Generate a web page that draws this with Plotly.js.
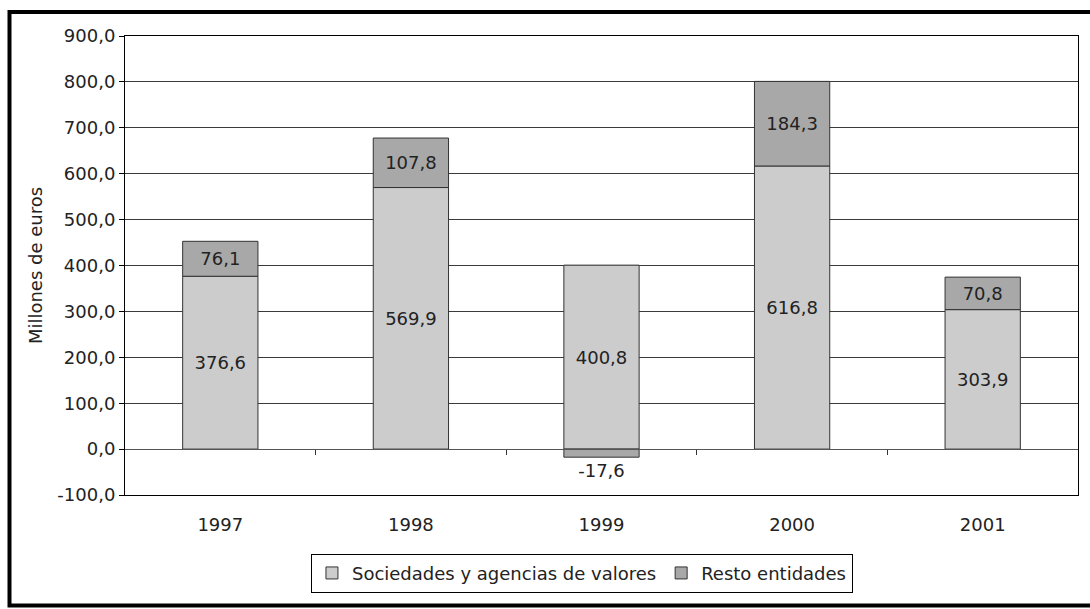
<!DOCTYPE html>
<html>
<head>
<meta charset="utf-8">
<script src="https://cdn.plot.ly/plotly-3.0.1.min.js"></script>
<style>
  html, body { margin: 0; padding: 0; background: #ffffff; }
  #chart { width: 1090px; height: 609px; }
</style>
</head>
<body>
<div id="chart"></div>
<script>
// ---- Data ----
var years = ['1997', '1998', '1999', '2000', '2001'];
var sociedades = [376.6, 569.9, 400.8, 616.8, 303.9];
var resto = [76.1, 107.8, -17.6, 184.3, 70.8];
var seriesNames = ['Sociedades y agencias de valores', 'Resto entidades'];
var yTickValues = [-100, 0, 100, 200, 300, 400, 500, 600, 700, 800, 900];
var yTickLabels = ['-100,0', '0,0', '100,0', '200,0', '300,0', '400,0', '500,0', '600,0', '700,0', '800,0', '900,0'];
var yAxisTitle = 'Millones de euros';

function fmt(v) { return v.toFixed(1).replace('.', ','); }

var FONT = 'DejaVu Sans, Verdana, sans-serif';
var FS = 18;
var TXT = '#222222';

var traces = [
  {
    type: 'bar', name: seriesNames[0], x: years, y: sociedades,
    text: sociedades.map(fmt), textposition: 'inside', insidetextanchor: 'middle',
    textfont: {family: FONT, size: FS, color: TXT},
    constraintext: 'none',
    marker: {color: '#cccccc', line: {color: '#333333', width: 1}},
    hoverinfo: 'skip'
  },
  {
    type: 'bar', name: seriesNames[1], x: years, y: resto,
    text: resto.map(fmt),
    textposition: resto.map(function (v) { return v < 0 ? 'outside' : 'inside'; }),
    insidetextanchor: 'middle',
    textfont: {family: FONT, size: FS, color: TXT},
    outsidetextfont: {family: FONT, size: FS, color: TXT},
    constraintext: 'none', cliponaxis: false,
    marker: {color: '#a8a8a8', line: {color: '#333333', width: 1}},
    hoverinfo: 'skip'
  },
  {
    type: 'scatter', mode: 'markers', x: [], y: [], xaxis: 'x2', yaxis: 'y',
    showlegend: false, hoverinfo: 'skip'
  }
];

var layout = {
  width: 1090, height: 609,
  margin: {l: 125, r: 12, t: 36, b: 114},
  paper_bgcolor: '#ffffff', plot_bgcolor: '#ffffff',
  font: {family: FONT, size: FS, color: TXT},
  barmode: 'relative',
  bargap: 0.605,
  showlegend: true,
  legend: {
    orientation: 'h', x: 0.4795, xanchor: 'center', y: -0.128, yanchor: 'top',
    bordercolor: '#000000', borderwidth: 1, font: {family: FONT, size: FS, color: TXT},
    traceorder: 'normal', itemclick: false, itemdoubleclick: false,
    itemwidth: 30, tracegroupgap: 0
  },
  xaxis: {
    type: 'category', showline: true, mirror: true, linecolor: '#000000', linewidth: 1,
    ticks: '', showgrid: false, zeroline: false, ticklabelstandoff: 13,
    tickfont: {family: FONT, size: FS, color: TXT}
  },
  xaxis2: {
    overlaying: 'x', anchor: 'free', position: 0.1, side: 'bottom',
    type: 'linear', range: [-0.5, 4.5],
    tickvals: [0.5, 1.5, 2.5, 3.5], ticks: 'outside', ticklen: 5, tickcolor: '#333333', tickwidth: 1,
    showticklabels: false, showgrid: false, zeroline: false,
    showline: true, linecolor: '#555555', linewidth: 1
  },
  yaxis: {
    range: [-100, 900], tickvals: yTickValues, ticktext: yTickLabels,
    ticks: 'outside', ticklen: 5, tickcolor: '#000000', tickwidth: 1,
    showline: true, mirror: true, linecolor: '#000000', linewidth: 1,
    showgrid: true, gridcolor: '#3a3a3a', gridwidth: 1, zeroline: false,
    tickfont: {family: FONT, size: FS, color: TXT},
    title: {text: yAxisTitle, font: {family: FONT, size: FS, color: TXT}, standoff: 10}
  },
  shapes: [
    {type: 'rect', xref: 'paper', yref: 'paper', x0: -0.1212, x1: 1.05, y0: -0.2407, y1: 1.0523,
     line: {color: '#000000', width: 4}, fillcolor: 'rgba(0,0,0,0)', layer: 'above'}
  ]
};

Plotly.newPlot('chart', traces, layout, {displayModeBar: false, staticPlot: true});
</script>
</body>
</html>
